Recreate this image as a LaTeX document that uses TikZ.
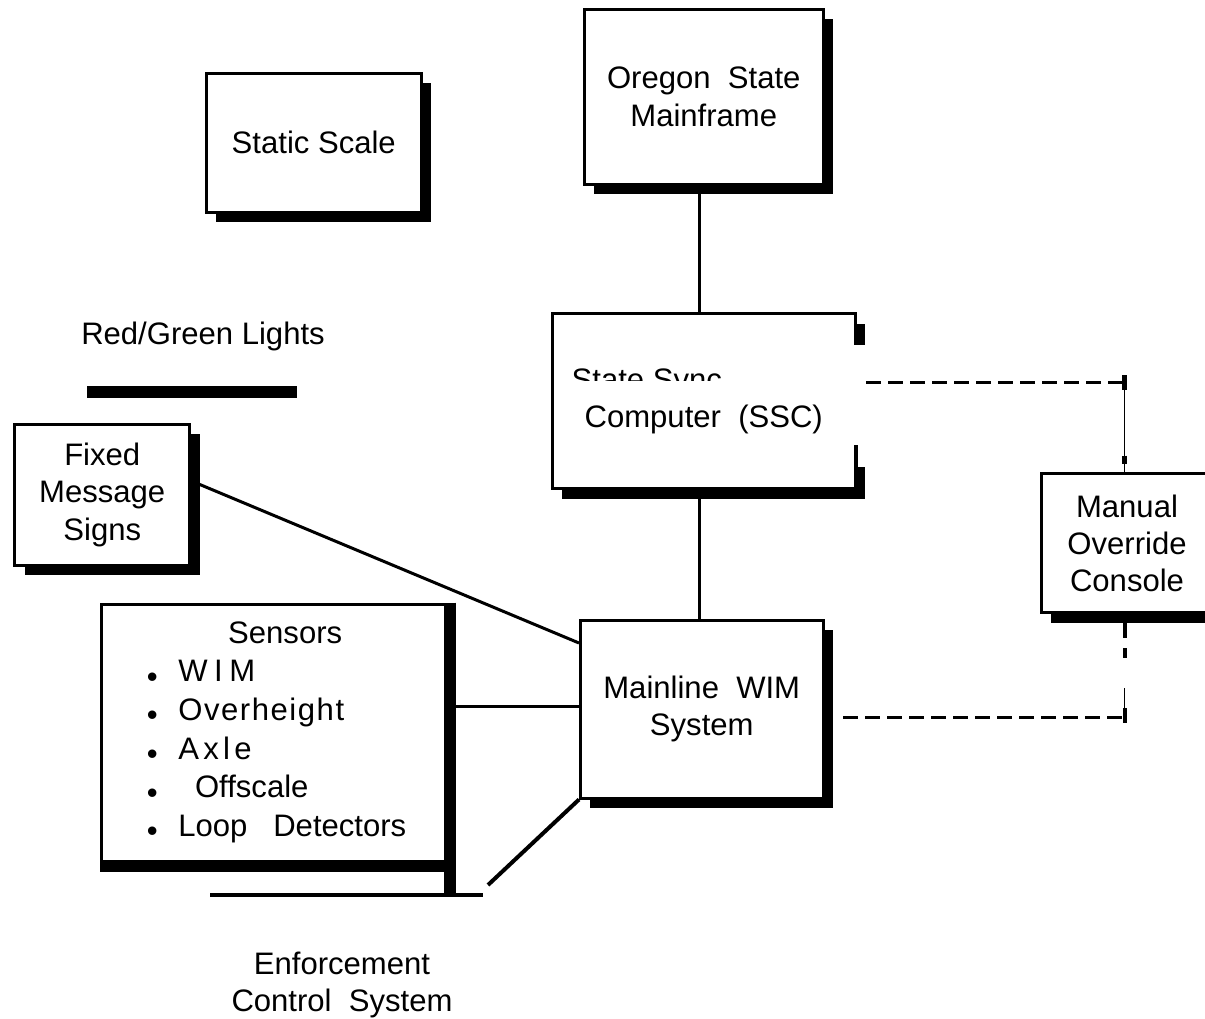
\documentclass[tikz,border=0pt]{standalone}
\usepackage{fontspec}
\setmainfont{Liberation Sans}
\usetikzlibrary{shadows,backgrounds}
\newcommand\sensbullet{\raisebox{-4pt}{\textbullet}}
\begin{document}
\begin{tikzpicture}[x=0.75pt,y=-0.75pt,
  every node/.style={font=\fontsize{23.3}{28}\selectfont, inner sep=0pt},
  unit/.style={draw, line width=2.25pt, fill=white, align=center,
    drop shadow={shadow xshift=7.5pt, shadow yshift=-7.5pt, fill=black, opacity=1}},
  panel/.style={draw, line width=2.25pt, fill=white},
  link/.style={line width=2.25pt},
  heavy/.style={line width=9pt},
  ctrl/.style={line width=2.5pt, dash pattern=on 11.25pt off 5.25pt},
  hair/.style={line width=0.8pt},
]
\useasboundingbox (0,0) rectangle (1205,1019);
\clip (0,0) rectangle (1205,1019);

% blocks
\node[unit, minimum width=160.9pt, minimum height=103.9pt] (static) at (313.75,142.75) {Static Scale};
\node[unit, minimum width=178.9pt, minimum height=130.9pt] (oregon) at (703.75,96.75) {Oregon\ \ State\\Mainframe};
\node[unit, minimum width=226.9pt, minimum height=131.6pt] (ssc) at (703.75,401.25) {State Sync\hspace*{85.5pt}\\Computer\ \ (SSC)};
\node[unit, minimum width=129pt, minimum height=104.6pt] (mo) at (1127,543.25) {Manual\\Override\\Console};
\node[unit, minimum width=131.6pt, minimum height=105.4pt] (fms) at (102.25,494.75) {Fixed\\Message\\Signs};
\node[unit, minimum width=181.9pt, minimum height=133.5pt] (mw) at (701.75,709) {Mainline\ \ WIM\\System};
\node[panel, minimum width=260.6pt, minimum height=195pt] (sens) at (275.25,734) {};

% sensor list
\node[anchor=base west] (senslist) at (146.6,643) {\fontsize{23.3}{29}\selectfont
  \begin{tabular}[t]{@{}l@{}}
  \hspace*{61pt}Sensors\\
  \sensbullet\hspace{15.4pt}{\addfontfeature{LetterSpace=21}WIM}\\
  \sensbullet\hspace{15.4pt}{\addfontfeature{LetterSpace=5}Overheight}\\
  \sensbullet\hspace{15.4pt}{\addfontfeature{LetterSpace=14}Axle}\\
  \sensbullet\hspace{28pt}Offscale\\
  \sensbullet\hspace{15.4pt}Loop\hspace{13pt} Detectors
  \end{tabular}};

% lights
\node[anchor=base west] (rglabel) at (81,345) {Red/Green Lights};
\node[fill=black, minimum width=157.5pt, minimum height=9pt] (lightbar) at (192,392) {};

% enforcement
\coordinate (ecsL) at (210,895);
\coordinate (ecsR) at (483,895);
\coordinate (ecsjoin) at (488,885);
\node[align=center] (ecs) at (342,985) {Enforcement\\Control\ \ System};

% solid links behind the blocks
\begin{scope}[on background layer]
  \draw[link] ([xshift=-3pt]oregon.south) -- ([xshift=-3pt]ssc.north);
  \draw[link] ([xshift=-3pt]ssc.south) -- ([xshift=-1.5pt]mw.north);
  \draw[link] ([yshift=10.3pt]fms.east) -- ([yshift=49.5pt]mw.west);
  \draw[link] ([yshift=21pt]sens.east) -- ([yshift=21pt]sens.east -| mw.west);
  \draw[line width=3pt] (mw.south west) -- (ecsjoin);
\end{scope}
\draw[line width=2.5pt] (ecsL) -- (ecsR);

% heavy right and bottom edges of the sensor panel
\draw[heavy] (sens.north east) -- (sens.east |- ecsR);
\draw[heavy] (sens.south west) -- (sens.south east);

% worn parts of the SSC block
\fill[white] (557,381) rectangle (849,404);
\fill[white] (850,345) rectangle (869,445);
\fill[white] (857.5,445) rectangle (869,467);

% override console links
\coordinate (sscport) at (866,382.5);
\coordinate (cornerA) at (1124.5,382.5);
\coordinate (mwport) at (843,717.5);
\coordinate (cornerB) at (1124.5,717.5);
\draw[ctrl] (sscport) -- (cornerA);
\draw[hair] (cornerA) -- (cornerA |- mo.north);
\draw[line width=3.75pt, dash pattern=on 11.25pt off 48.75pt on 6pt off 100pt]
  ([yshift=5.25pt]cornerA) -- (cornerA |- mo.north);
\draw[ctrl] (mwport) -- (cornerB);
\draw[line width=3pt, dash pattern=on 18pt off 7.5pt on 7.5pt off 37.5pt on 12pt off 100pt]
  (cornerB |- mo.south) -- ([yshift=-4pt]cornerB);
\draw[hair, dash pattern=on 15pt off 100pt, dash phase=59.5pt]
  (cornerB |- mo.south) -- (cornerB);
\end{tikzpicture}
\end{document}
